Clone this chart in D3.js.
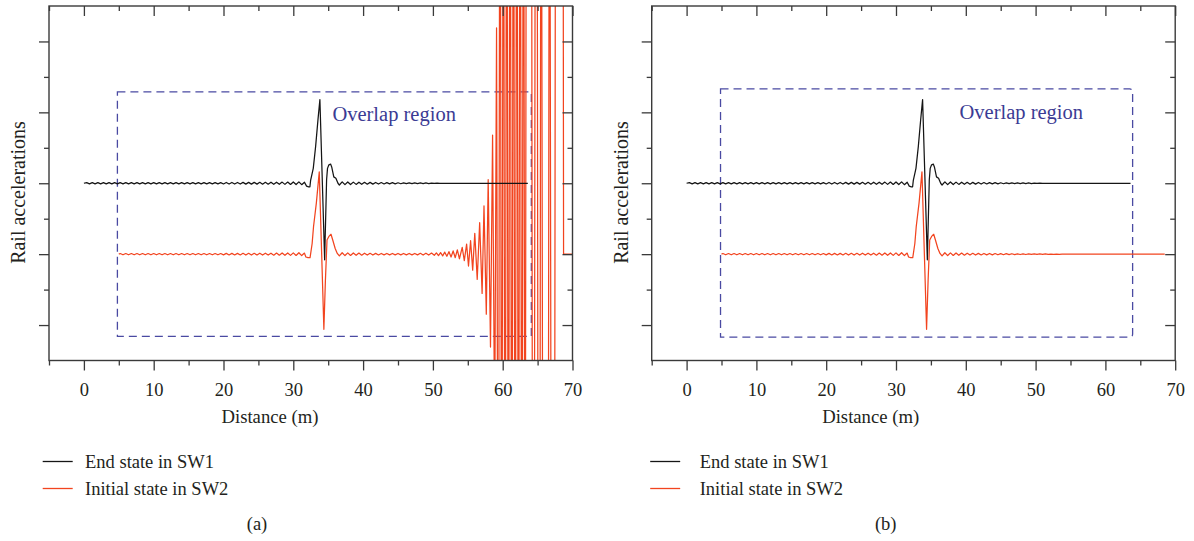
<!DOCTYPE html>
<html>
<head>
<meta charset="utf-8">
<script src="https://cdn.jsdelivr.net/npm/d3@7"></script>
<style>
  body { margin: 0; background: #fff; }
  svg { display: block; }
  text { font-family: "Liberation Serif", "Times New Roman", serif; fill: #231f20; }
</style>
</head>
<body>
<svg id="fig" width="1194" height="541"></svg>
<script>
// ---- data -------------------------------------------------------------
const xMajorTicks = [0, 10, 20, 30, 40, 50, 60, 70];
const xMinorTicks = [-5, 5, 15, 25, 35, 45, 55, 65];
const yMajorTicks = [-2, -1, 0, 1, 2];
const yMinorTicks = [-1.5, -0.5, 0.5, 1.5];
const seriesNames = ["End state in SW1", "Initial state in SW2"];
const panelLabels = ["(a)", "(b)"];

// rail acceleration of the end state in switch 1 (offset 0)
const sw1End = [
  [0,0],[0.4,0.009],[0.8,-0.009],[1.2,0.009],[1.6,-0.009],[2,0.009],[2.4,-0.009],[2.8,0.009],[3.2,-0.009],[3.6,0.009],
  [4,-0.009],[4.4,0.009],[4.8,-0.009],[5.2,0.009],[5.6,-0.009],[6,0.009],[6.4,-0.009],[6.8,0.009],[7.2,-0.009],[7.6,0.009],
  [8,-0.009],[8.4,0.009],[8.8,-0.009],[9.2,0.009],[9.6,-0.009],[10,0.009],[10.4,-0.009],[10.8,0.009],[11.2,-0.009],[11.6,0.009],
  [12,-0.009],[12.4,0.009],[12.8,-0.009],[13.2,0.009],[13.6,-0.009],[14,0.009],[14.4,-0.009],[14.8,0.009],[15.2,-0.009],[15.6,0.009],
  [16,-0.009],[16.4,0.009],[16.8,-0.009],[17.2,0.009],[17.6,-0.009],[18,0.009],[18.4,-0.009],[18.8,0.009],[19.2,-0.009],[19.6,0.009],
  [20,-0.01],[20.4,0.011],[20.8,-0.011],[21.2,0.011],[21.6,-0.011],[22,0.011],[22.4,-0.011],[22.8,0.012],[23.2,-0.012],[23.6,0.012],
  [24,-0.012],[24.4,0.012],[24.8,-0.012],[25.2,0.013],[25.6,-0.013],[26,0.013],[26.4,-0.013],[26.8,0.014],[27.2,-0.014],[27.6,0.015],
  [28,-0.015],[28.4,0.016],[28.8,-0.016],[29.2,0.017],[29.6,-0.017],[30,0.018],[30.4,-0.018],[30.8,0.02],[31.2,-0.02],[31.6,0.015],
  [31.9,-0.04],[32.2,-0.05],[32.38,-0.05],[32.48,0.04],[32.86,0.21],[33.2,0.52],[33.53,0.89],[33.81,1.18],[34.49,-1.08],
  [34.77,0.05],[34.9,0.21],[35.1,0.26],[35.35,0.27],[35.5,0.23],[35.8,0.09],[36.1,0.07],[36.4,0],[36.6,-0.025],
  [37,0.02],[37.4,-0.02],[37.8,0.018],[38.2,-0.018],[38.6,0.016],[39,-0.016],[39.4,0.015],[39.8,-0.015],[40.2,0.013],[40.6,-0.013],
  [41,0.012],[41.4,-0.012],[41.8,0.011],[42.2,-0.011],[42.6,0.01],[43,-0.01],[43.4,0.009],[43.8,-0.009],[44.2,0.008],[44.6,-0.008],
  [45,0.007],[45.4,-0.007],[45.8,0.006],[46.2,-0.006],[46.6,0.005],[47,-0.005],[47.4,0.005],[47.8,-0.005],[48.2,0.004],[48.6,-0.004],
  [49,0.004],[49.4,-0.004],[49.8,0.003],[50.2,-0.003],[50.6,0.003],[51,-0.003],[51.4,0],[63.6,0]
];

// rail acceleration of the initial state in switch 2 (offset -1), case (a)
const sw2InitialA = [
  [5,-1],[5.2,-0.991],[5.6,-1.009],[6,-0.991],[6.4,-1.009],[6.8,-0.991],[7.2,-1.009],[7.6,-0.991],
  [8,-1.009],[8.4,-0.991],[8.8,-1.009],[9.2,-0.991],[9.6,-1.009],[10,-0.991],[10.4,-1.009],[10.8,-0.991],[11.2,-1.009],[11.6,-0.991],
  [12,-1.009],[12.4,-0.991],[12.8,-1.009],[13.2,-0.991],[13.6,-1.009],[14,-0.991],[14.4,-1.009],[14.8,-0.991],[15.2,-1.009],[15.6,-0.991],
  [16,-1.009],[16.4,-0.991],[16.8,-1.009],[17.2,-0.991],[17.6,-1.009],[18,-0.991],[18.4,-1.009],[18.8,-0.991],[19.2,-1.009],[19.6,-0.991],
  [20,-1.01],[20.4,-0.989],[20.8,-1.011],[21.2,-0.989],[21.6,-1.011],[22,-0.989],[22.4,-1.011],[22.8,-0.988],[23.2,-1.012],[23.6,-0.988],
  [24,-1.012],[24.4,-0.988],[24.8,-1.012],[25.2,-0.987],[25.6,-1.013],[26,-0.987],[26.4,-1.013],[26.8,-0.986],[27.2,-1.014],[27.6,-0.985],
  [28,-1.015],[28.4,-0.984],[28.8,-1.016],[29.2,-0.983],[29.6,-1.017],[30,-0.982],[30.4,-1.018],[30.8,-0.98],[31.2,-1.02],[31.6,-0.985],
  [31.8,-1.04],[32.1,-1.05],[32.4,-1.05],[32.7,-0.85],[32.9,-0.61],[33.3,-0.28],[33.72,0.16],[34.38,-2.06],
  [34.6,-1.37],[34.83,-0.8],[35.1,-0.75],[35.4,-0.72],[35.65,-0.8],[36,-0.92],[36.3,-0.99],[36.6,-1.025],
  [37,-0.98],[37.4,-1.02],[37.8,-0.982],[38.2,-1.018],[38.6,-0.984],[39,-1.016],[39.4,-0.985],[39.8,-1.015],[40.2,-0.987],[40.6,-1.013],
  [41,-0.988],[41.4,-1.012],[41.8,-0.989],[42.2,-1.011],[42.6,-0.99],[43,-1.01],[43.4,-0.99],[43.8,-1.01],[44.2,-0.99],[44.6,-1.01],
  [45,-0.99],[45.4,-1.01],[45.8,-0.99],[46.2,-1.01],[46.6,-0.99],[47,-1.01],[47.4,-0.99],[47.8,-1.01],[48.2,-0.988],[48.6,-1.012],
  [49,-0.987],[49.4,-1.013],[49.8,-0.985],[50.2,-1.016],[50.5,-0.982],[50.8,-1.02],[51.1,-0.978],[51.4,-1.024],[51.7,-0.972],[52,-1.03],
  [52.3,-0.965],[52.6,-1.04],[52.9,-0.955],[53.2,-1.05],[53.5,-0.94],[53.8,-1.065],[54.2,-0.904],[54.5,-1.093],[54.83,-0.857],[55.1,-1.168],
  [55.4,-0.81],[55.7,-1.225],[56,-0.706],[56.35,-1.356],[56.7,-0.556],[57.05,-1.554],[57.32,-0.32],[57.65,-1.846],[57.92,0.05],[58.25,-2.31],
  [58.55,0.68],[58.85,-3.6],[59.12,2.19],[59.38,-8],[59.62,8],[59.86,-8],[60.1,8],[60.34,-8],[60.58,8],[60.82,-8],
  [61.06,8],[61.3,-8],[61.54,8],[61.78,-8],[62.02,8],[62.26,-8],[62.5,8],[62.74,-8],[62.98,8],[63.2,-8],[63.42,8],
  [64.1,8],[64.3,-8],[64.5,-8],[64.7,8],[64.9,8],[65.1,-8],[65.3,-8],[65.5,8],[65.8,-8],[66.5,-8],[66.7,8],[67,-8],
  [67.4,-8],[67.6,8],[68.62,8],[68.72,-1],[70,-1]
];

// rail acceleration of the initial state in switch 2 (offset -1), case (b)
const sw2InitialB = [
  [5,-1],[5.2,-0.991],[5.6,-1.009],[6,-0.991],[6.4,-1.009],[6.8,-0.991],[7.2,-1.009],[7.6,-0.991],
  [8,-1.009],[8.4,-0.991],[8.8,-1.009],[9.2,-0.991],[9.6,-1.009],[10,-0.991],[10.4,-1.009],[10.8,-0.991],[11.2,-1.009],[11.6,-0.991],
  [12,-1.009],[12.4,-0.991],[12.8,-1.009],[13.2,-0.991],[13.6,-1.009],[14,-0.991],[14.4,-1.009],[14.8,-0.991],[15.2,-1.009],[15.6,-0.991],
  [16,-1.009],[16.4,-0.991],[16.8,-1.009],[17.2,-0.991],[17.6,-1.009],[18,-0.991],[18.4,-1.009],[18.8,-0.991],[19.2,-1.009],[19.6,-0.991],
  [20,-1.01],[20.4,-0.989],[20.8,-1.011],[21.2,-0.989],[21.6,-1.011],[22,-0.989],[22.4,-1.011],[22.8,-0.988],[23.2,-1.012],[23.6,-0.988],
  [24,-1.012],[24.4,-0.988],[24.8,-1.012],[25.2,-0.987],[25.6,-1.013],[26,-0.987],[26.4,-1.013],[26.8,-0.986],[27.2,-1.014],[27.6,-0.985],
  [28,-1.015],[28.4,-0.984],[28.8,-1.016],[29.2,-0.983],[29.6,-1.017],[30,-0.982],[30.4,-1.018],[30.8,-0.98],[31.2,-1.02],[31.6,-0.985],
  [31.8,-1.04],[32.1,-1.05],[32.4,-1.05],[32.7,-0.85],[32.9,-0.61],[33.3,-0.28],[33.72,0.16],[34.38,-2.06],
  [34.6,-1.37],[34.83,-0.8],[35.1,-0.75],[35.4,-0.72],[35.65,-0.8],[36,-0.92],[36.3,-0.99],[36.6,-1.025],
  [37,-0.98],[37.4,-1.02],[37.8,-0.982],[38.2,-1.018],[38.6,-0.984],[39,-1.016],[39.4,-0.985],[39.8,-1.015],[40.2,-0.987],[40.6,-1.013],
  [41,-0.988],[41.4,-1.012],[41.8,-0.989],[42.2,-1.011],[42.6,-0.99],[43,-1.01],[43.4,-0.99],[43.8,-1.01],[44.2,-0.991],[44.6,-1.009],
  [45,-0.992],[45.4,-1.008],[45.8,-0.993],[46.2,-1.007],[46.6,-0.994],[47,-1.006],[47.4,-0.995],[47.8,-1.005],[48.2,-0.995],[48.6,-1.005],
  [49,-0.996],[49.4,-1.004],[49.8,-0.996],[50.2,-1.004],[50.6,-0.997],[51,-1.003],[51.4,-0.997],[51.8,-1.003],[52.2,-0.998],[52.6,-1.002],
  [53,-0.998],[53.4,-1.002],[53.8,-1],[68.5,-1]
];

// dashed overlap windows [x0, x1, yTop, yBottom] and label anchor [x, y]
const overlapA = [4.8, 64.1, 1.29, -2.16];
const overlapB = [4.86, 63.9, 1.33, -2.17];
const overlapLabelA = [35.6, 0.88];
const overlapLabelB = [39.1, 0.905];

// ---- layout ---------------------------------------------------------
const svg = d3.select("#fig");
const plotW = 523.5, plotH = 354.5, plotTop = 6;
const colors = { sw1: "#151515", sw2: "#f2441f", box: "#4a4aa2", boxText: "#3b3b94", axis: "#3a3a3a" };

const panels = [
  { left: 49, series: [sw1End, sw2InitialA], box: overlapA, boxLabel: overlapLabelA, rounded: false,
    label: panelLabels[0], labelX: 208, titleX: 221, legLineX: -6.3, legTextX: 36, yTitleX: -24 },
  { left: 651.7, series: [sw1End, sw2InitialB], box: overlapB, boxLabel: overlapLabelB, rounded: true,
    label: panelLabels[1], labelX: 234, titleX: 219, legLineX: -1.5, legTextX: 48, yTitleX: -24 }
];

panels.forEach((p, i) => {
  const g = svg.append("g").attr("transform", `translate(${p.left},${plotTop})`);
  const x = d3.scaleLinear().domain([-5, 70]).range([0, plotW]);
  const y = d3.scaleLinear().domain([-2.5, 2.5]).range([plotH, 0]);

  const clipId = "clip" + i;
  g.append("clipPath").attr("id", clipId)
    .append("rect").attr("x", 0).attr("y", 0).attr("width", plotW).attr("height", plotH);

  // overlap window
  const [bx0, bx1, byT, byB] = p.box;
  const X0 = x(bx0), X1 = x(bx1), YT = y(byT), YB = y(byB);
  let boxPath;
  if (p.rounded) {
    const r = 3;
    boxPath = `M${X0},${YT}H${X1 - r}Q${X1},${YT} ${X1},${YT + r}V${YB - r}Q${X1},${YB} ${X1 - r},${YB}H${X0}Z`;
  } else {
    boxPath = `M${X0},${YT}H${X1}V${YB}H${X0}Z`;
  }
  g.append("path").attr("d", boxPath)
    .attr("fill", "none").attr("stroke", colors.box).attr("stroke-width", 1.3)
    .attr("stroke-dasharray", "8,5");

  g.append("text")
    .attr("x", x(p.boxLabel[0])).attr("y", y(p.boxLabel[1]))
    .attr("font-size", 20.5).style("fill", colors.boxText)
    .text("Overlap region");

  // series
  const line = d3.line().x(d => x(d[0])).y(d => y(d[1]));
  const lines = g.append("g").attr("clip-path", `url(#${clipId})`);
  lines.append("path").datum(p.series[1]).attr("d", line)
    .attr("fill", "none").attr("stroke", colors.sw2).attr("stroke-width", 1.25).attr("stroke-linejoin", "round");
  lines.append("path").datum(p.series[0]).attr("d", line)
    .attr("fill", "none").attr("stroke", colors.sw1).attr("stroke-width", 1.25).attr("stroke-linejoin", "round");

  // axes
  const styleAxis = sel => {
    sel.selectAll(".domain").remove();
    sel.selectAll("line").attr("stroke", colors.axis).attr("stroke-width", 1.3);
  };
  g.append("g").attr("transform", `translate(0,${plotH})`)
    .call(d3.axisBottom(x).tickValues(xMajorTicks).tickSize(10).tickPadding(12).tickFormat(d3.format("d")))
    .call(styleAxis)
    .call(s => s.selectAll("text").attr("font-size", 18.5).attr("font-family", "Liberation Serif").style("fill", "#231f20"));
  g.append("g").attr("transform", `translate(0,${plotH})`)
    .call(d3.axisBottom(x).tickValues(xMinorTicks).tickSize(5).tickFormat(""))
    .call(styleAxis);
  g.append("g").call(d3.axisTop(x).tickValues(xMajorTicks).tickSize(-10).tickFormat("")).call(styleAxis);
  g.append("g").call(d3.axisTop(x).tickValues(xMinorTicks).tickSize(-5).tickFormat("")).call(styleAxis);
  g.append("g").call(d3.axisLeft(y).tickValues(yMajorTicks).tickSize(10).tickFormat("")).call(styleAxis);
  g.append("g").call(d3.axisLeft(y).tickValues(yMinorTicks).tickSize(5).tickFormat("")).call(styleAxis);
  g.append("g").attr("transform", `translate(${plotW},0)`)
    .call(d3.axisRight(y).tickValues(yMajorTicks).tickSize(-10).tickFormat("")).call(styleAxis);
  g.append("g").attr("transform", `translate(${plotW},0)`)
    .call(d3.axisRight(y).tickValues(yMinorTicks).tickSize(-5).tickFormat("")).call(styleAxis);

  g.append("rect").attr("width", plotW).attr("height", plotH)
    .attr("fill", "none").attr("stroke", colors.axis).attr("stroke-width", 1.4);

  // titles
  g.append("text").attr("x", p.titleX).attr("y", 416.7).attr("text-anchor", "middle")
    .attr("font-size", 18.7).text("Distance (m)");
  g.append("text")
    .attr("transform", `translate(${p.yTitleX},${186.5}) rotate(-90)`)
    .attr("text-anchor", "middle").attr("font-size", 20).text("Rail accelerations");

  // legend
  const legY = [455.5, 482.5];
  [colors.sw1, colors.sw2].forEach((c, k) => {
    g.append("line").attr("x1", p.legLineX).attr("x2", p.legLineX + 30)
      .attr("y1", legY[k]).attr("y2", legY[k]).attr("stroke", c).attr("stroke-width", 1.3);
    g.append("text").attr("x", p.legTextX).attr("y", legY[k] + 6)
      .attr("font-size", 18.5).text(seriesNames[k]);
  });

  g.append("text").attr("x", p.labelX).attr("y", 524).attr("text-anchor", "middle")
    .attr("font-size", 18.5).text(p.label);
});
</script>
</body>
</html>
